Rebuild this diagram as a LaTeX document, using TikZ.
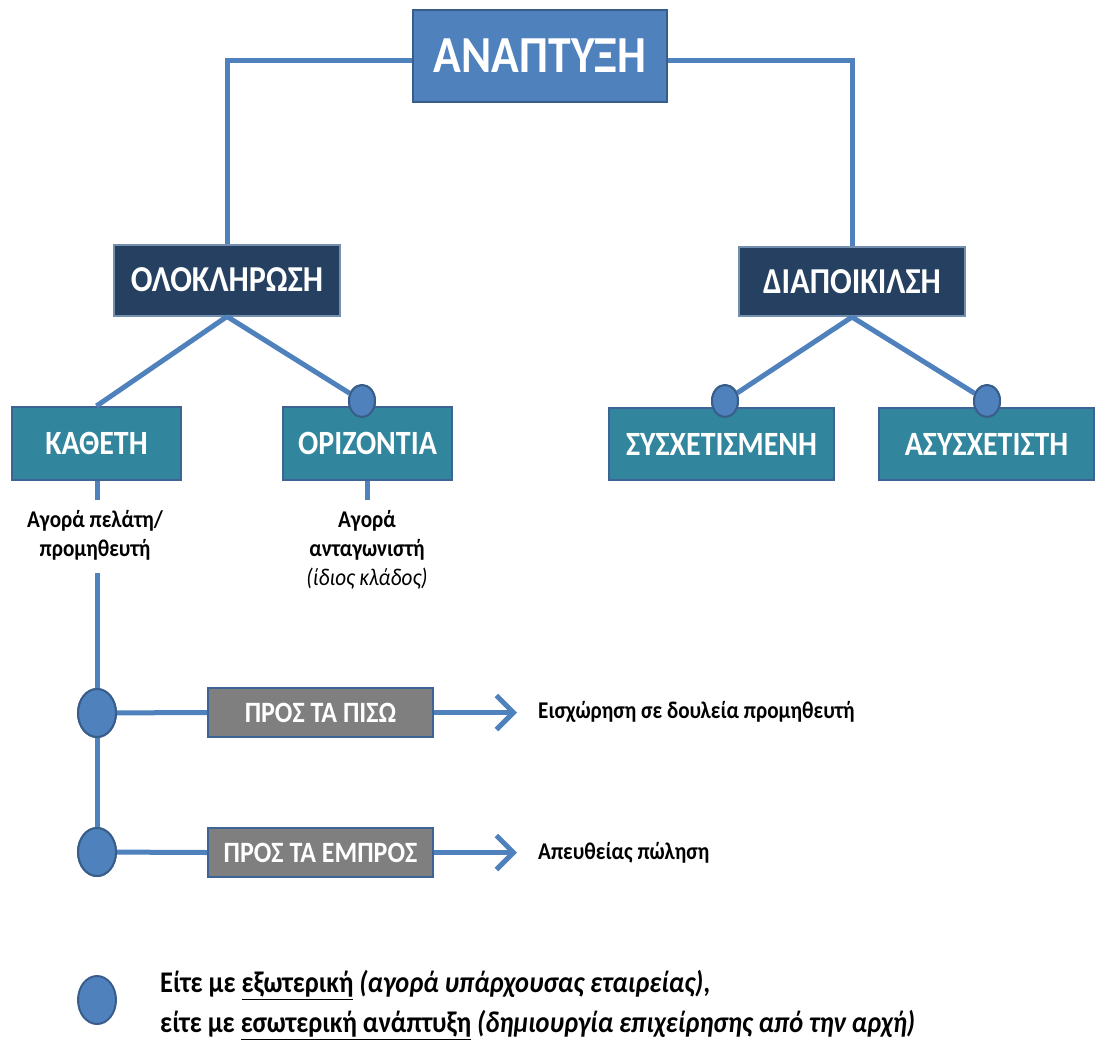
\documentclass[tikz,border=0pt]{standalone}
\usepackage{fontspec}
\setmainfont{Carlito}[FakeStretch=0.88]
\usetikzlibrary{arrows.meta,shapes.geometric}
\definecolor{lblue}{HTML}{4F81BD}
\definecolor{dblue}{HTML}{385D8A}
\definecolor{navy}{HTML}{254061}
\definecolor{teal}{HTML}{31859C}
\definecolor{greybox}{HTML}{7F7F7F}
\tikzset{
  box/.style={rectangle, draw=dblue, line width=2pt, text=white, font=\bfseries, inner sep=0pt},
  topbox/.style={box, fill=lblue, minimum width=254pt, minimum height=92pt, font=\fontsize{52}{58}\selectfont\bfseries},
  midbox/.style={box, fill=navy, draw=dblue!70!white, minimum height=71pt, font=\fontsize{36.5}{40}\selectfont\bfseries},
  lowbox/.style={box, fill=teal, draw=dblue!80!lblue, minimum height=73pt, font=\fontsize{34}{38}\selectfont\bfseries},
  greyb/.style={box, fill=greybox, draw=dblue!80!lblue, minimum width=225pt, minimum height=49pt, font=\fontsize{29.5}{32}\selectfont\bfseries},
  conn/.style={draw=lblue, line width=5pt},
  dot/.style={ellipse, fill=lblue, draw=dblue, line width=2pt, inner sep=0pt},
  smalldot/.style={dot, minimum width=26pt, minimum height=32pt},
  bigdot/.style={dot, minimum width=38pt, minimum height=48pt},
  lbl/.style={align=center, font=\fontsize{24}{29}\selectfont\bfseries, inner sep=0pt},
  arr/.style={conn, -{Straight Barb[length=17pt, width=34pt, line width=5pt]}}
}
\begin{document}
\begin{tikzpicture}[x=1pt, y=-1pt]
\useasboundingbox (0,0) rectangle (1096,1045);
\coordinate (tl) at (413,60);
\coordinate (tr) at (667,60);
\node[smalldot] (cor) at (362,401) {};
\node[smalldot] (csy) at (725,401) {};
\node[smalldot] (cas) at (987,401) {};

\node[topbox] (top) at (540,56) {ΑΝΑΠΤΥΞΗ};
\node[midbox, minimum width=226pt] (olok) at (227,280) {ΟΛΟΚΛΗΡΩΣΗ};
\node[midbox, minimum width=226pt, minimum height=69pt] (diap) at (852,281.5) {ΔΙΑΠΟΙΚΙΛΣΗ};
\node[lowbox, minimum width=169pt] (kath) at (96.5,443.5) {ΚΑΘΕΤΗ};
\node[lowbox, minimum width=169pt] (oriz) at (367.5,443.5) {ΟΡΙΖΟΝΤΙΑ};
\node[lowbox, minimum width=225pt, minimum height=72pt] (sysx) at (721.5,444) {ΣΥΣΧΕΤΙΣΜΕΝΗ};
\node[lowbox, minimum width=215pt, minimum height=72pt] (asysx) at (986.5,444) {ΑΣΥΣΧΕΤΙΣΤΗ};
\node[greyb] (pisw) at (320.5,712.5) {ΠΡΟΣ ΤΑ ΠΙΣΩ};
\node[greyb] (empr) at (320.5,852.5) {ΠΡΟΣ ΤΑ ΕΜΠΡΟΣ};

% tree connectors
\draw[conn] (top.west |- tl) -| (olok.north);
\draw[conn] (top.east |- tr) -| (diap.north);
\draw[conn] (olok.south) -- (kath.north);
\draw[conn] (olok.south) -- (cor);
\draw[conn] (diap.south) -- (csy);
\draw[conn] (diap.south) -- (cas);
\node[smalldot] at (cor) {};
\node[smalldot] at (csy) {};
\node[smalldot] at (cas) {};

% labels under kath / oriz
\coordinate (ks) at (97,500);
\coordinate (os) at (367,500);
\draw[conn] (kath.south -| ks) -- (ks);
\draw[conn] (oriz.south -| os) -- (os);
\node[lbl] (kl) at (95,535) {Αγορά πελάτη/\\προμηθευτή};
\node[lbl] (ol) at (367,550) {Αγορά\\ανταγωνιστή\\{\mdseries\itshape (ίδιος κλάδος)}};

% vertical chain
\coordinate (vs) at (97,573);
\node[bigdot] (c1) at (97,713) {};
\node[bigdot] (c2) at (97,852) {};
\draw[conn] (vs) -- (c1) -- (c2);
\draw[conn] (c1) -- (pisw.west);
\draw[conn] (c2) -- (empr.west);
\node[bigdot] at (c1) {};
\node[bigdot] at (c2) {};
\coordinate (a1) at (517,712.5);
\coordinate (a2) at (517,852.5);
\draw[arr] (pisw.east) -- (a1);
\draw[arr] (empr.east) -- (a2);
\node[lbl, anchor=base west] (t1) at (538,718) {Εισχώρηση σε δουλεία προμηθευτή};
\node[lbl, anchor=base west] (t2) at (538,859) {Απευθείας πώληση};

% legend
\node[bigdot] (leg) at (97,1000) {};
\node[anchor=west, align=left, inner sep=0pt, font=\fontsize{30}{40}\selectfont\bfseries] (legt) at (160,1005)
  {Είτε με \underline{εξωτερική} \textit{(αγορά υπάρχουσας εταιρείας)},\\
   είτε με \underline{εσωτερική ανάπτυξη} \textit{(δημιουργία επιχείρησης από την αρχή)}};
\end{tikzpicture}
\end{document}
